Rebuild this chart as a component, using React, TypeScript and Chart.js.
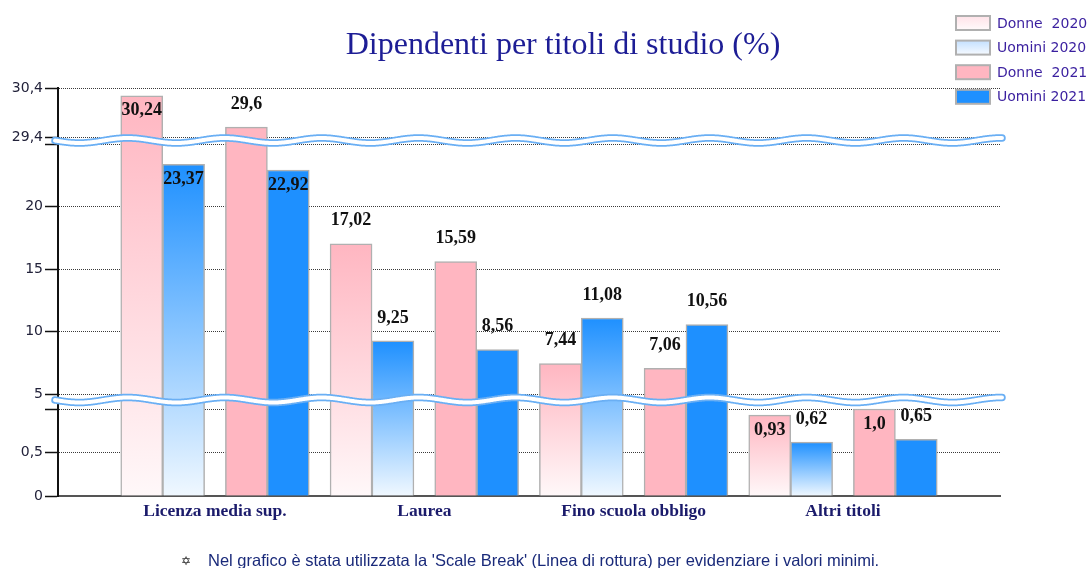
import React, { useEffect, useRef } from 'react';
import { Chart, LinearScale, BarController, BarElement } from 'chart.js';

// ---------- data ----------
const TITLE = 'Dipendenti per titoli di studio (%)';
const CATEGORIES = ['Licenza media sup.', 'Laurea', 'Fino scuola obbligo', 'Altri titoli'];
const SERIES_NAMES = ['Donne  2020', 'Uomini 2020', 'Donne  2021', 'Uomini 2021'];
const DONNE_2020 = [30.24, 17.02, 7.44, 0.93];
const UOMINI_2020 = [23.37, 9.25, 11.08, 0.62];
const DONNE_2021 = [29.6, 15.59, 7.06, 1.0];
const UOMINI_2021 = [22.92, 8.56, 10.56, 0.65];
const Y_TICKS = [0, 0.5, 1, 5, 10, 15, 20, 25, 29.4, 30.4];
const Y_TICK_LABELS = ['0', '0,5', '', '5', '10', '15', '20', '', '29,4', '30,4'];
const FOOTNOTE = "Nel grafico è stata utilizzata la 'Scale Break' (Linea di rottura) per evidenziare i valori minimi.";

// ---------- broken (scale-break) axis configuration ----------
const SEGMENTS = [
  { from: 0, to: 1, weight: 87, gap: false },
  { from: 1, to: 5, weight: 15, gap: true, waveAt: 0.6 },
  { from: 5, to: 25, weight: 250, gap: false },
  { from: 25, to: 29.4, weight: 7, gap: true, waveAt: 0.5 },
  { from: 29.4, to: 30.4, weight: 49, gap: false },
];
const TOTAL_WEIGHT = SEGMENTS.reduce((s, g) => s + g.weight, 0);

function brokenDecimal(v: number): number {
  let acc = 0;
  for (const s of SEGMENTS) {
    if (v <= s.to) {
      const f = Math.max(0, v - s.from) / (s.to - s.from);
      return (acc + f * s.weight) / TOTAL_WEIGHT;
    }
    acc += s.weight;
  }
  const last = SEGMENTS[SEGMENTS.length - 1];
  return (acc + ((v - last.to) / (last.to - last.from)) * last.weight) / TOTAL_WEIGHT;
}

function segmentTop(v: number): number {
  for (const s of SEGMENTS) {
    if (!s.gap && v <= s.to) return s.to;
  }
  return SEGMENTS[SEGMENTS.length - 1].to;
}

class BrokenScale extends (LinearScale as any) {
  static id = 'broken';
  static defaults = {};
  determineDataLimits() {
    (this as any).min = SEGMENTS[0].from;
    (this as any).max = SEGMENTS[SEGMENTS.length - 1].to;
  }
  buildTicks() {
    return Y_TICKS.map((value) => ({ value }));
  }
  getPixelForValue(value: number) {
    return (this as any).getPixelForDecimal(brokenDecimal(value));
  }
  getValueForPixel(pixel: number) {
    const d = (this as any).getDecimalForPixel(pixel) * TOTAL_WEIGHT;
    let acc = 0;
    for (const s of SEGMENTS) {
      if (d <= acc + s.weight) return s.from + ((d - acc) / s.weight) * (s.to - s.from);
      acc += s.weight;
    }
    return SEGMENTS[SEGMENTS.length - 1].to;
  }
}

Chart.register(LinearScale, BarController, BarElement, BrokenScale as any);

// ---------- styles ----------
const PINK = '#ffb6c1';
const BLUE = '#1e90ff';
const BAR_BORDER = '#b0b0b0';
const BAR_OFFSETS = [-0.35, -0.15, 0.15, 0.35];

const gradientFill = (top: string, bottom: string) => (c: any) => {
  const chart = c.chart;
  const ys = chart.scales && chart.scales.y;
  if (!ys || c.type !== 'data' || !c.parsed) return top;
  const y0 = ys.getPixelForValue(c.parsed.y);
  const y1 = ys.getPixelForValue(0);
  if (!isFinite(y0) || !isFinite(y1) || Math.abs(y1 - y0) < 1) return top;
  const g = chart.ctx.createLinearGradient(0, y0, 0, y1);
  g.addColorStop(0, top);
  g.addColorStop(1, bottom);
  return g;
};

const fmt = (v: number) => (Number.isInteger(v) ? v.toFixed(1) : String(v)).replace('.', ',');

function drawWave(ctx: CanvasRenderingContext2D, x0: number, x1: number, yc: number) {
  const A = 2.5;
  const P = 97;
  ctx.save();
  ctx.beginPath();
  for (let x = x0; x <= x1; x += 1) {
    const y = yc + A * Math.sin((2 * Math.PI * (x - x0)) / P);
    if (x === x0) ctx.moveTo(x, y);
    else ctx.lineTo(x, y);
  }
  ctx.lineCap = 'round';
  ctx.lineWidth = 7.5;
  ctx.strokeStyle = '#6aaff4';
  ctx.stroke();
  ctx.lineWidth = 4;
  ctx.strokeStyle = '#ffffff';
  ctx.stroke();
  ctx.restore();
}

const overlayPlugin = {
  id: 'overlay',
  afterDatasetsDraw(chart: any) {
    const ctx: CanvasRenderingContext2D = chart.ctx;
    const ys = chart.scales.y;
    const area = chart.chartArea;
    for (const s of SEGMENTS) {
      if (!s.gap) continue;
      const v = s.from + (s.waveAt as number) * (s.to - s.from);
      drawWave(ctx, area.left - 3, area.right + 2, ys.getPixelForValue(v));
    }
    ctx.save();
    ctx.font = 'bold 18px "Liberation Serif", "Times New Roman", serif';
    ctx.fillStyle = '#111111';
    ctx.textAlign = 'center';
    ctx.textBaseline = 'middle';
    chart.data.datasets.forEach((ds: any, di: number) => {
      const meta = chart.getDatasetMeta(di);
      meta.data.forEach((el: any, i: number) => {
        const v = ds.data[i].y;
        const topPx = ys.getPixelForValue(segmentTop(v));
        let y = el.y - 23;
        if (el.y - 29 < topPx) y = el.y + 15;
        ctx.fillText(fmt(v), el.x, y);
      });
    });
    ctx.restore();
  },
  afterDraw(chart: any) {
    const ctx: CanvasRenderingContext2D = chart.ctx;
    ctx.save();
    ctx.font = '32px "Liberation Serif", "Times New Roman", serif';
    ctx.fillStyle = '#1d1d95';
    ctx.textAlign = 'center';
    ctx.textBaseline = 'alphabetic';
    ctx.fillText(TITLE, 563, 54);
    const fills = [
      ['#ffe2e8', '#fffafb'],
      ['#c4e0ff', '#f6faff'],
      [PINK, PINK],
      [BLUE, BLUE],
    ];
    ctx.font = '14px "DejaVu Sans", sans-serif';
    ctx.textAlign = 'left';
    ctx.textBaseline = 'middle';
    SERIES_NAMES.forEach((name, i) => {
      const cy = 23 + i * 24.6;
      const bx = 956, bw = 34, bh = 14;
      const g = ctx.createLinearGradient(0, cy - bh / 2, 0, cy + bh / 2);
      g.addColorStop(0, fills[i][0]);
      g.addColorStop(1, fills[i][1]);
      ctx.fillStyle = g;
      ctx.fillRect(bx, cy - bh / 2, bw, bh);
      ctx.lineWidth = 2;
      ctx.strokeStyle = BAR_BORDER;
      ctx.strokeRect(bx, cy - bh / 2, bw, bh);
      ctx.fillStyle = '#3a1f9f';
      ctx.fillText(name, 997, cy + 1);
    });
    ctx.restore();
  },
};

export default function App() {
  const ref = useRef<HTMLCanvasElement | null>(null);

  useEffect(() => {
    if (!ref.current) return;
    const series = [DONNE_2020, UOMINI_2020, DONNE_2021, UOMINI_2021];
    const fills: any[] = [
      gradientFill(PINK, '#fff8f9'),
      gradientFill(BLUE, '#f0f8ff'),
      PINK,
      BLUE,
    ];
    const chart = new Chart(ref.current, {
      type: 'bar',
      data: {
        datasets: series.map((vals, si) => ({
          label: SERIES_NAMES[si],
          data: vals.map((v, i) => ({ x: i + BAR_OFFSETS[si], y: v })),
          backgroundColor: fills[si],
          borderColor: BAR_BORDER,
          borderWidth: 1.5,
          grouped: false,
          barThickness: 42,
        })),
      },
      options: {
        animation: false,
        responsive: false,
        events: [],
        layout: { padding: { top: 88, right: 90, left: 0, bottom: 0 } },
        plugins: { legend: { display: false }, tooltip: { enabled: false }, title: { display: false } },
        scales: {
          x: {
            type: 'linear',
            offset: false,
            min: -0.75,
            max: 3.75,
            afterBuildTicks: (s: any) => {
              s.ticks = CATEGORIES.map((_, i) => ({ value: i }));
            },
            afterFit: (s: any) => {
              s.height = 72;
            },
            grid: { display: false, drawTicks: false, offset: false },
            border: { display: true, color: '#555555', width: 2 },
            ticks: {
              autoSkip: false,
              maxRotation: 0,
              padding: 5,
              color: '#1b1b6b',
              font: { family: '"Liberation Serif", "Times New Roman", serif', size: 17.5, weight: 'bold' },
              callback: (v: any) => CATEGORIES[Math.round(v)] ?? '',
            },
          },
          y: {
            type: 'broken' as any,
            afterFit: (s: any) => {
              s.width = 58;
            },
            grid: {
              color: (c: any) => (c.tick && c.tick.value === 0 ? 'rgba(0,0,0,0)' : '#3a3a3a'),
              lineWidth: 1,
              drawTicks: true,
              tickLength: 13,
              tickColor: '#111111',
              tickWidth: 1.5,
            },
            border: { display: true, color: '#111111', width: 2, dash: [1, 1] },
            ticks: {
              autoSkip: false,
              padding: 2,
              color: '#22223a',
              font: { family: '"DejaVu Sans", sans-serif', size: 14 },
              callback: (_v: any, i: number) => Y_TICK_LABELS[i],
            },
          },
        },
      },
      plugins: [overlayPlugin],
    } as any);
    return () => chart.destroy();
  }, []);

  return (
    <div style={{ position: 'absolute', left: 0, top: 0, width: 1090, height: 568, background: '#ffffff', overflow: 'hidden' }}>
      <canvas ref={ref} width={1090} height={568} style={{ display: 'block' }} />
      <span
        style={{
          position: 'absolute',
          left: 181,
          top: 552,
          fontFamily: '"DejaVu Sans", sans-serif',
          fontSize: 12,
          color: '#333',
          lineHeight: '18px',
        }}
      >
        ✡
      </span>
      <div
        style={{
          position: 'absolute',
          left: 208,
          top: 551,
          whiteSpace: 'nowrap',
          fontFamily: '"Liberation Sans", Arial, sans-serif',
          fontSize: 16.5,
          color: '#1a2a7a',
          lineHeight: '18px',
        }}
      >
        {FOOTNOTE}
      </div>
    </div>
  );
}
